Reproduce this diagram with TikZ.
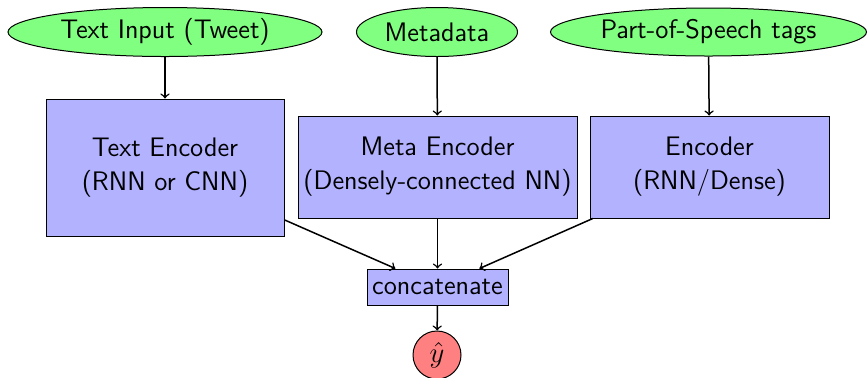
\documentclass[tikz,border=0pt]{standalone}
\usetikzlibrary{shapes.geometric}
\begin{document}
\begin{tikzpicture}[x=0.5pt,y=-0.5pt,
  every node/.style={font=\sffamily\fontsize{13.4}{17}\selectfont},
  inp/.style={ellipse,draw,fill=green!50,inner sep=0pt,line width=0.5pt},
  enc/.style={rectangle,draw,fill=blue!30,align=center,inner sep=2pt,line width=0.5pt},
  outc/.style={circle,draw,fill=red!50,inner sep=0pt,minimum size=24pt,line width=0.5pt},
  conn/.style={->,line width=0.75pt}]
\useasboundingbox (0,0) rectangle (868,377);
\node[inp,minimum width=157pt,minimum height=24.5pt] (i1) at (165,32) {Text Input (Tweet)};
\node[inp,minimum width=80.5pt,minimum height=24.5pt] (i2) at (437,32) {Metadata};
\node[inp,minimum width=158pt,minimum height=24pt] (i3) at (708.5,32) {Part-of-Speech tags};
\node[enc,minimum width=119pt,minimum height=68.5pt] (e1) at (165,167.5) {Text Encoder\\(RNN or CNN)};
\node[enc,minimum width=139.5pt,minimum height=51pt] (e2) at (437.5,167) {Meta Encoder\\(Densely-connected NN)};
\node[enc,minimum width=119.5pt,minimum height=51pt] (e3) at (709.5,167) {Encoder\\(RNN/Dense)};
\node[enc,minimum width=70.5pt,minimum height=18pt,inner sep=1pt] (c) at (437.5,287) {concatenate};
\node[outc] (y) at (437,355) {$\hat{y}$};
\draw[conn] (i1) -- (e1);
\draw[conn] (i2) -- (e2);
\draw[conn] (i3) -- (e3);
\draw[conn] (e1) -- (c);
\draw[conn] (e2) -- (c);
\draw[conn] (e3) -- (c);
\draw[conn] (c) -- (y);
\end{tikzpicture}
\end{document}
